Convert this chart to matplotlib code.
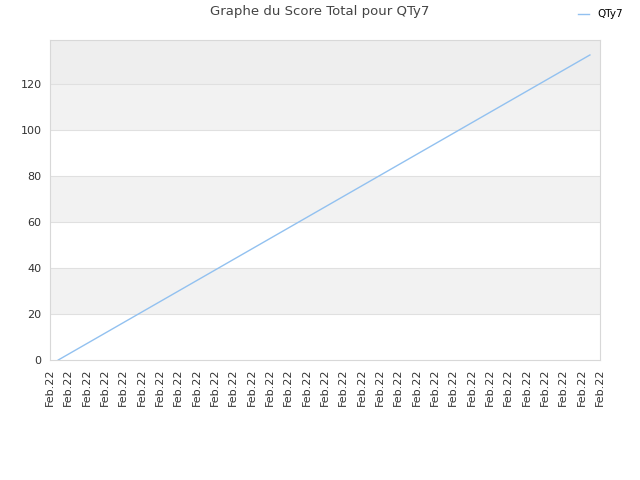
import matplotlib
matplotlib.use("Agg")
import matplotlib.pyplot as plt

# data
x_pos = [0.45, 29.45]
scores = [0.0, 132.5]
tick_labels = ["Feb.22"] * 31
band_edges = [0, 20, 40, 60, 80, 100, 120, 139]
band_colors = ["#ffffff", "#f2f2f2", "#ffffff", "#f2f2f2", "#ffffff", "#f2f2f2", "#eeeeee"]

fig = plt.figure(figsize=(6.4, 4.8), dpi=100)
ax = fig.add_axes([50 / 640, 1 - 360 / 480, 550 / 640, 320 / 480])

for lo, hi, c in zip(band_edges[:-1], band_edges[1:], band_colors):
    ax.axhspan(lo, hi, facecolor=c, zorder=0, lw=0)
for y in band_edges[1:-1]:
    ax.axhline(y, color="#e0e0e0", lw=0.8, zorder=1)

ax.plot(x_pos, scores, color="#92c1f0", lw=1.0, label="QTy7", zorder=3)

ax.set_xlim(0, len(tick_labels) - 1)
ax.set_ylim(0, band_edges[-1])
ax.set_xticks(range(len(tick_labels)))
ax.set_xticklabels(tick_labels, rotation=90, fontsize=8, color="#333333")
ax.set_yticks(range(0, 121, 20))
ax.tick_params(axis="y", labelsize=8, colors="#333333", length=0, pad=6)
ax.tick_params(axis="x", length=0, pad=6)
for s in ax.spines.values():
    s.set_color("#d8d8d8")

fig.text(0.5, 1 - 12 / 480, "Graphe du Score Total pour QTy7", ha="center", va="center",
         fontsize=9.5, color="#444444")
fig.legend(loc="upper right", bbox_to_anchor=(0.9875, 1.0), frameon=False, fontsize=7.5,
           handlelength=1.0)

fig.savefig("out.png", dpi=100)
plt.close(fig)
